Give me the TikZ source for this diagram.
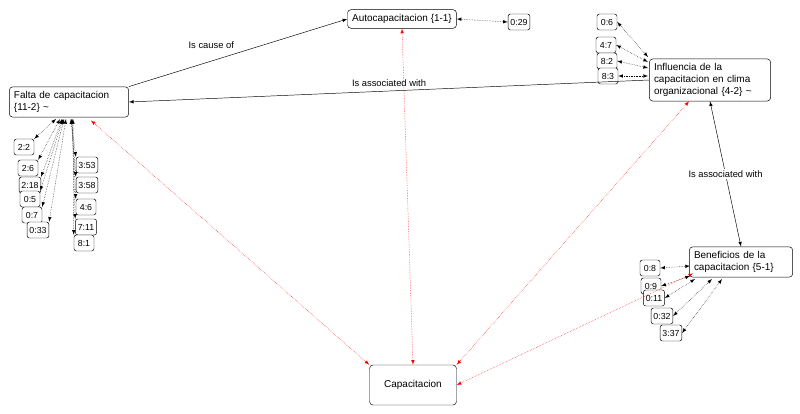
\documentclass[tikz,border=0pt]{standalone}
\usepackage{fontspec}
\setmainfont{Liberation Sans}
\usetikzlibrary{arrows}
\tikzset{>=latex}

\begin{document}
\begin{tikzpicture}[x=0.03cm,y=-0.03cm,
  code/.style={draw,rounded corners=2pt,fill=white,font=\fontsize{7.5}{8}\selectfont,inner sep=2pt,minimum height=16*0.03cm,minimum width=20*0.03cm},
  concept/.style={draw,rounded corners=3pt,fill=white,font=\fontsize{8.5}{10}\selectfont,align=left,inner sep=4pt},
  link/.style={<->,densely dotted,black},
  redlink/.style={<->,densely dotted,red}]
  \useasboundingbox (0,0) rectangle (800,414);

  % Concepts
  \node[concept] (auto) at (402,19) {Autocapacitacion \{1-1\}};
  \node[concept,text width=110*0.03cm] (falta) at (69,102) {Falta de capacitacion\\\{11-2\} \textasciitilde};
  \node[concept,text width=112*0.03cm] (infl) at (710,80) {Influencia de la\\capacitacion en clima\\organizacional \{4-2\} \textasciitilde};
  \node[concept,text width=94*0.03cm] (benef) at (741,262) {Beneficios de la\\capacitacion \{5-1\}};
  \node[concept,minimum height=40*0.03cm,minimum width=87*0.03cm] (cap) at (413,385) {Capacitacion};
  \node[code] (c029) at (519,22) {0:29};

  % Codes of Falta
  \foreach \id/\txt/\x/\y/\ax in {a/2:2/24/147/56, b/2:6/28/168/60, c/2:18/30/185/62, d/0:5/30/199/63,
    e/0:7/32/215/64, f/0:33/38/230/66}
  {
    \node[code] (f\id) at (\x,\y) {\txt};
    \draw[link] (f\id.north east) -- (\ax,119);
  }
  \foreach \id/\txt/\x/\y/\ax in {g/3:53/87/165/71, h/3:58/87/185/71, i/4:6/86/207/72,
    j/7:11/86/227/72, k/8:1/84/243/73}
  {
    \node[code] (f\id) at (\x,\y) {\txt};
    \draw[link] (f\id.north west) -- (\ax,119);
  }

  % Codes of Influencia
  \foreach \id/\txt/\x/\y/\ty in {a/0:6/607/22/57, b/4:7/606/45/62, c/8:2/607/61/68, d/8:3/608/76/76}
  {
    \node[code] (i\id) at (\x,\y) {\txt};
    \draw[link] (i\id.east) -- (648,\ty);
  }

  % Codes of Beneficios
  \foreach \id/\txt/\x/\y/\tx/\ty in {a/0:8/650/268/690/266, b/0:9/651/286/690/276, c/0:11/654/298/695/279,
    d/0:32/662/316/712/279, e/3:37/671/333/722/279}
  {
    \node[code] (b\id) at (\x,\y) {\txt};
    \draw[link] (b\id.east) -- (\tx,\ty);
  }

  % Relations
  \draw[->] (falta.north east) -- node[above left,font=\fontsize{8}{9}\selectfont] {Is cause of} (auto.west);
  \draw[->] (infl.west) -- node[above,font=\fontsize{8}{9}\selectfont] {Is associated with} (falta.east);
  \draw[<->] (infl.south) -- node[fill=white,inner sep=1pt,font=\fontsize{8}{9}\selectfont] {Is associated with} (benef.north);
  \draw[link] (auto.east) -- (c029.west);

  % Links to Capacitacion
  \draw[redlink] (auto.south) -- (cap.north);
  \draw[redlink] ([xshift=-38*0.03cm,yshift=-3*0.03cm]falta.south east) -- (cap.north west);
  \draw[redlink] ([xshift=40*0.03cm]infl.south west) -- (cap.north east);
  \draw[redlink] ([xshift=4*0.03cm,yshift=4*0.03cm]benef.south west) -- (cap.east);
\end{tikzpicture}
\end{document}
